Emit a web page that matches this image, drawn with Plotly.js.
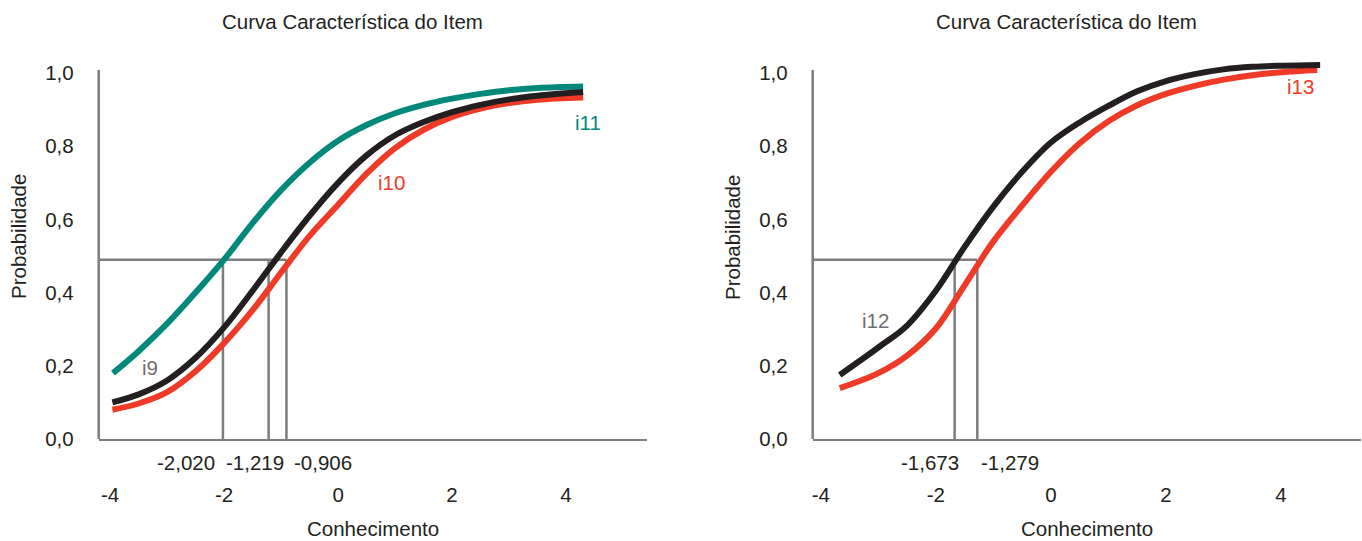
<!DOCTYPE html>
<html>
<head>
<meta charset="utf-8">
<script src="https://cdn.plot.ly/plotly-3.0.1.min.js"></script>
<style>html,body{margin:0;padding:0;background:#fff;}#chart{width:1362px;height:541px;}</style>
</head>
<body>
<div id="chart"></div>
<script>
// ---- Data ----
const xTicks = [-4, -2, 0, 2, 4];
const xTickLabels = ['-4', '-2', '0', '2', '4'];
const yTicks = [0, 0.2, 0.4, 0.6, 0.8, 1.0];
const yTickLabels = ['0,0', '0,2', '0,4', '0,6', '0,8', '1,0'];

// Left panel
const i11_x = [-3.95, -3.5, -3.0, -2.5, -2.0, -1.5, -1.0, -0.5, 0.0, 0.5, 1.0, 1.5, 2.0, 2.5, 3.0, 3.5, 4.3];
const i11_y = [0.180, 0.240, 0.315, 0.400, 0.490, 0.590, 0.680, 0.755, 0.815, 0.858, 0.890, 0.913, 0.930, 0.943, 0.953, 0.959, 0.963];
const i9_x  = [-3.96, -3.5, -3.0, -2.5, -2.0, -1.5, -1.0, -0.5, 0.0, 0.5, 1.0, 1.5, 2.0, 2.5, 3.0, 3.5, 4.3];
const i9_y  = [0.100, 0.122, 0.160, 0.222, 0.305, 0.405, 0.510, 0.610, 0.700, 0.775, 0.830, 0.866, 0.893, 0.913, 0.928, 0.938, 0.948];
const i10_x = [-3.96, -3.5, -3.0, -2.5, -2.0, -1.5, -1.0, -0.5, 0.0, 0.5, 1.0, 1.5, 2.0, 2.5, 3.0, 3.5, 4.3];
const i10_y = [0.080, 0.097, 0.128, 0.185, 0.262, 0.352, 0.455, 0.555, 0.640, 0.725, 0.795, 0.845, 0.880, 0.903, 0.918, 0.927, 0.933];
const cutsLeft = [-2.020, -1.219, -0.906];
const cutLabelsLeft = ['-2,020', '-1,219', '-0,906'];

// Right panel
const i12_x = [-3.67, -3.0, -2.5, -2.0, -1.5, -1.0, -0.5, 0.0, 0.5, 1.0, 1.5, 2.0, 2.5, 3.0, 3.5, 4.0, 4.68];
const i12_y = [0.175, 0.250, 0.310, 0.405, 0.525, 0.635, 0.730, 0.810, 0.865, 0.910, 0.950, 0.978, 0.997, 1.010, 1.017, 1.020, 1.022];
const i13_x = [-3.67, -3.0, -2.5, -2.0, -1.5, -1.0, -0.5, 0.0, 0.5, 1.0, 1.5, 2.0, 2.5, 3.0, 3.5, 4.0, 4.63];
const i13_y = [0.139, 0.180, 0.228, 0.302, 0.420, 0.540, 0.638, 0.730, 0.808, 0.868, 0.912, 0.943, 0.965, 0.982, 0.994, 1.002, 1.008];
const cutsRight = [-1.673, -1.279];
const cutLabelsRight = ['-1,673', '-1,279'];

const refLevel = 0.49;
const xRangeLeft = [-4.2, 5.42];
const xRangeRight = [-4.14, 5.39];

// ---- Styles ----
const TEAL = '#00897a', BLACK = '#231f20', RED = '#ee3a26', GRAY = '#7d7d7d', LABELGRAY = '#6d6e71';
const FONT = 'Liberation Sans, Arial, sans-serif';
const FS = 20.5;

function refTrace(cuts, xmin, xa, ya) {
  const xs = [], ys = [];
  cuts.forEach(c => { xs.push(c, c, null); ys.push(0, refLevel, null); });
  xs.push(xmin, Math.max(...cuts)); ys.push(refLevel, refLevel);
  return {x: xs, y: ys, xaxis: xa, yaxis: ya, mode: 'lines', line: {color: GRAY, width: 2.5}, hoverinfo: 'skip', connectgaps: false};
}
function curve(x, y, color, xa, ya) {
  return {x: x, y: y, xaxis: xa, yaxis: ya, mode: 'lines', line: {color: color, width: 6, shape: 'spline', smoothing: 1}, hoverinfo: 'skip'};
}

const traces = [
  refTrace(cutsLeft, xRangeLeft[0], 'x', 'y'),
  curve(i11_x, i11_y, TEAL, 'x', 'y'),
  curve(i10_x, i10_y, RED, 'x', 'y'),
  curve(i9_x, i9_y, BLACK, 'x', 'y'),
  refTrace(cutsRight, xRangeRight[0], 'x2', 'y2'),
  curve(i13_x, i13_y, RED, 'x2', 'y2'),
  curve(i12_x, i12_y, BLACK, 'x2', 'y2')
];

const yDomain = [0.18854, 0.8921];
function xaxisCfg(range, domain, anchor) {
  return {range: range, domain: domain, anchor: anchor, showgrid: false, zeroline: false,
    showline: true, linecolor: GRAY, linewidth: 2.5, ticks: '', tickvals: xTicks, ticktext: xTickLabels,
    ticklabelstandoff: 36, tickfont: {family: FONT, size: FS, color: BLACK}, fixedrange: true};
}
function yaxisCfg(anchor) {
  return {range: [0, 1.04], domain: yDomain, anchor: anchor, showgrid: false, zeroline: false,
    showline: false, ticks: '', tickvals: yTicks, ticktext: yTickLabels,
    ticklabelstandoff: 24, tickfont: {family: FONT, size: FS, color: BLACK}, fixedrange: true};
}

const annFont = (c) => ({family: FONT, size: FS, color: c});
const annotations = [
  {text: 'Curva Característica do Item', xref: 'paper', yref: 'paper', x: 352/1362, y: 1 - 22/541, xanchor: 'center', yanchor: 'middle', showarrow: false, font: annFont(BLACK)},
  {text: 'Curva Característica do Item', xref: 'paper', yref: 'paper', x: 1066/1362, y: 1 - 22/541, xanchor: 'center', yanchor: 'middle', showarrow: false, font: annFont(BLACK)},
  {text: 'Conhecimento', xref: 'x domain', yref: 'paper', x: 0.5, y: 1 - 528/541, xanchor: 'center', yanchor: 'middle', showarrow: false, font: annFont(BLACK)},
  {text: 'Conhecimento', xref: 'x2 domain', yref: 'paper', x: 0.5, y: 1 - 528/541, xanchor: 'center', yanchor: 'middle', showarrow: false, font: annFont(BLACK)},
  {text: 'Probabilidade', xref: 'paper', yref: 'paper', x: 18/1362, y: 1 - 237/541, textangle: -90, xanchor: 'center', yanchor: 'middle', showarrow: false, font: annFont(BLACK)},
  {text: 'Probabilidade', xref: 'paper', yref: 'paper', x: 732/1362, y: 1 - 237/541, textangle: -90, xanchor: 'center', yanchor: 'middle', showarrow: false, font: annFont(BLACK)},
  // series labels
  {text: 'i9', xref: 'x', yref: 'y', x: -3.30, y: 0.194, showarrow: false, font: annFont(LABELGRAY)},
  {text: 'i10', xref: 'x', yref: 'y', x: 0.93, y: 0.70, showarrow: false, font: annFont(RED)},
  {text: 'i11', xref: 'x', yref: 'y', x: 4.39, y: 0.866, showarrow: false, font: annFont(TEAL)},
  {text: 'i12', xref: 'x2', yref: 'y2', x: -3.04, y: 0.325, showarrow: false, font: annFont(LABELGRAY)},
  {text: 'i13', xref: 'x2', yref: 'y2', x: 4.33, y: 0.962, showarrow: false, font: annFont(RED)}
];
// cut labels
const cutAnchorsLeft = [['right', -6], ['center', -14], ['left', 6]];
cutsLeft.forEach((c, i) => annotations.push({text: cutLabelsLeft[i], xref: 'x', yref: 'paper', x: c, y: 1 - 462/541,
  xanchor: cutAnchorsLeft[i][0], xshift: cutAnchorsLeft[i][1], yanchor: 'middle', showarrow: false, font: annFont(BLACK)}));
const cutAnchorsRight = [['right', 6], ['left', 2]];
cutsRight.forEach((c, i) => annotations.push({text: cutLabelsRight[i], xref: 'x2', yref: 'paper', x: c, y: 1 - 462/541,
  xanchor: cutAnchorsRight[i][0], xshift: cutAnchorsRight[i][1], yanchor: 'middle', showarrow: false, font: annFont(BLACK)}));

const shapes = [
  {type: 'line', xref: 'x domain', yref: 'y', x0: 0, x1: 0, y0: -0.003, y1: 1.008, line: {color: GRAY, width: 2.5}},
  {type: 'line', xref: 'x2 domain', yref: 'y2', x0: 0, x1: 0, y0: -0.003, y1: 1.008, line: {color: GRAY, width: 2.5}}
];

const layout = {
  width: 1362, height: 541,
  margin: {l: 0, r: 0, t: 0, b: 0},
  paper_bgcolor: '#ffffff', plot_bgcolor: '#ffffff',
  showlegend: false,
  font: {family: FONT, color: BLACK},
  xaxis: xaxisCfg(xRangeLeft, [98.7/1362, 647/1362], 'y'),
  yaxis: yaxisCfg('x'),
  xaxis2: xaxisCfg(xRangeRight, [812.7/1362, 1361/1362], 'y2'),
  yaxis2: yaxisCfg('x2'),
  annotations: annotations,
  shapes: shapes
};

Plotly.newPlot('chart', traces, layout, {staticPlot: true, displayModeBar: false});
</script>
</body>
</html>
